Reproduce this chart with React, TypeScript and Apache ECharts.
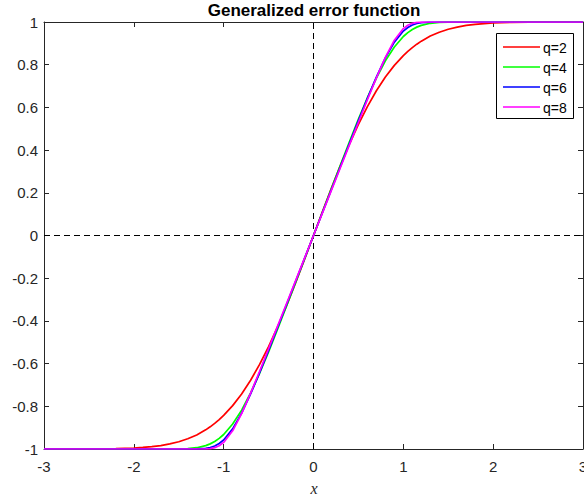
import React, { useEffect, useRef } from "react";
import * as echarts from "echarts";

// Sample abscissae on the non-negative half; the curves are odd functions,
// so the negative half is mirrored from these same samples.
const xPos = [0, 0.1, 0.2, 0.3, 0.4, 0.5, 0.6, 0.7, 0.8, 0.9, 1.0, 1.05, 1.1, 1.15, 1.2, 1.3, 1.4, 1.5, 1.6, 1.7, 1.8, 1.9, 2.0, 2.2, 2.4, 2.6, 2.8, 3.0];

const q2 = [0, 0.1125, 0.2227, 0.3286, 0.4284, 0.5205, 0.6039, 0.6778, 0.7421, 0.7969, 0.8427, 0.8624, 0.8802, 0.8961, 0.9103, 0.934, 0.9523, 0.9661, 0.9763, 0.9838, 0.9891, 0.9928, 0.9953, 0.9981, 0.9993, 0.9998, 0.9999, 1.0];
const q4 = [0, 0.1103, 0.2206, 0.3304, 0.4391, 0.5449, 0.6454, 0.7375, 0.8178, 0.8832, 0.9321, 0.9504, 0.9649, 0.976, 0.9843, 0.994, 0.9982, 0.9995, 0.9999, 1, 1, 1, 1, 1, 1, 1, 1, 1];
const q6 = [0, 0.1078, 0.2156, 0.3233, 0.4309, 0.5378, 0.6425, 0.7423, 0.8322, 0.9059, 0.9575, 0.9744, 0.986, 0.9931, 0.997, 0.9997, 1, 1, 1, 1, 1, 1, 1, 1, 1, 1, 1, 1];
const q8 = [0, 0.1062, 0.2124, 0.3186, 0.4247, 0.5307, 0.6359, 0.7386, 0.8343, 0.9147, 0.9692, 0.9849, 0.9939, 0.9981, 0.9996, 1, 1, 1, 1, 1, 1, 1, 1, 1, 1, 1, 1, 1];

const seriesNames = ["q=2", "q=4", "q=6", "q=8"];
const seriesValues = [q2, q4, q6, q8];
const seriesColors = ["#ff0000", "#00ff00", "#0000ff", "#ff00ff"];

const xTicks = { min: -3, max: 3, step: 1 };
const yTicks = { min: -1, max: 1, step: 0.2 };

function oddCurve(ys: number[]): number[][] {
  const pts: number[][] = [];
  for (let i = xPos.length - 1; i >= 1; i--) pts.push([-xPos[i], -ys[i]]);
  for (let i = 0; i < xPos.length; i++) pts.push([xPos[i], ys[i]]);
  return pts;
}

const AXIS = "#262626";
const FONT = "Liberation Sans";
const W = 584;
const H = 498;
const LINE_W = 1.7;

// Boxed key in the upper-right corner of the plot
function legendGraphics(): any[] {
  const boxX = 496;
  const boxY = 33;
  const rowH = 20;
  const items: any[] = [
    {
      type: "rect",
      z: 20,
      shape: { x: boxX + 0.5, y: boxY + 0.5, width: 77, height: 85 },
      style: { fill: "#fff", stroke: "#000", lineWidth: 1 },
    },
  ];
  seriesNames.forEach((name, i) => {
    const cy = boxY + 14 + i * rowH;
    items.push({
      type: "line",
      z: 21,
      shape: { x1: boxX + 7, y1: cy, x2: boxX + 44, y2: cy },
      style: { stroke: seriesColors[i], lineWidth: LINE_W },
    });
    items.push({
      type: "text",
      z: 21,
      style: {
        text: name,
        x: boxX + 47,
        y: cy + 1,
        align: "left",
        verticalAlign: "middle",
        textAlign: "left",
        textVerticalAlign: "middle",
        font: `14px "${FONT}"`,
        fill: "#000",
      },
    });
  });
  return items;
}

export default function App() {
  const ref = useRef<HTMLDivElement>(null);

  useEffect(() => {
    if (!ref.current) return;
    const chart = echarts.init(ref.current, undefined, { renderer: "svg", width: W, height: H });

    const tickStyle = { show: true, inside: true, length: 5, lineStyle: { color: AXIS, width: 1 } };
    const lineStyle = { show: true, onZero: false, lineStyle: { color: AXIS, width: 1 } };

    const series: any[] = seriesNames.map((name, i) => ({
      name,
      type: "line",
      data: oddCurve(seriesValues[i]),
      showSymbol: false,
      symbol: "none",
      smooth: false,
      lineStyle: { color: seriesColors[i], width: LINE_W },
      itemStyle: { color: seriesColors[i] },
      z: 3 + i,
    }));

    // Dashed reference lines through the origin
    series[0].markLine = {
      silent: true,
      symbol: ["none", "none"],
      label: { show: false },
      lineStyle: { color: "#000", type: [6, 4], width: 1 },
      data: [{ xAxis: 0 }, { yAxis: 0 }],
      z: 1,
    };

    chart.setOption({
      animation: false,
      backgroundColor: "#fff",
      grid: {
        left: 44,
        right: 1,
        top: 22,
        bottom: 49,
        containLabel: false,
        outerBoundsMode: "none",
      },
      xAxis: [
        {
          type: "value",
          min: xTicks.min,
          max: xTicks.max,
          interval: xTicks.step,
          position: "bottom",
          axisLine: lineStyle,
          axisTick: tickStyle,
          splitLine: { show: false },
          axisLabel: { color: AXIS, fontSize: 15, fontFamily: FONT, margin: 10 },
        },
        {
          type: "value",
          min: xTicks.min,
          max: xTicks.max,
          interval: xTicks.step,
          position: "top",
          axisLine: lineStyle,
          axisTick: tickStyle,
          splitLine: { show: false },
          axisLabel: { show: false },
        },
      ],
      yAxis: [
        {
          type: "value",
          min: yTicks.min,
          max: yTicks.max,
          interval: yTicks.step,
          position: "left",
          axisLine: lineStyle,
          axisTick: tickStyle,
          splitLine: { show: false },
          axisLabel: {
            color: AXIS,
            fontSize: 15,
            fontFamily: FONT,
            margin: 6,
            formatter: (v: number) => String(+v.toFixed(1)),
          },
        },
        {
          type: "value",
          min: yTicks.min,
          max: yTicks.max,
          interval: yTicks.step,
          position: "right",
          axisLine: lineStyle,
          axisTick: tickStyle,
          splitLine: { show: false },
          axisLabel: { show: false },
        },
      ],
      graphic: [
        {
          type: "text",
          z: 10,
          style: {
            text: "Generalized error function",
            x: 314,
            y: 10,
            align: "center",
            verticalAlign: "middle",
            textAlign: "center",
            textVerticalAlign: "middle",
            font: `bold 17px "${FONT}"`,
            fill: "#000",
          },
        },
        {
          type: "text",
          z: 10,
          style: {
            text: "x",
            x: 314,
            y: 488,
            align: "center",
            verticalAlign: "middle",
            textAlign: "center",
            textVerticalAlign: "middle",
            font: `italic 16px "Liberation Serif"`,
            fill: "#262626",
          },
        },
        ...legendGraphics(),
      ],
      series,
    });

    return () => chart.dispose();
  }, []);

  return (
    <div
      ref={ref}
      style={{ position: "absolute", left: 0, top: 0, width: W, height: H }}
    />
  );
}
